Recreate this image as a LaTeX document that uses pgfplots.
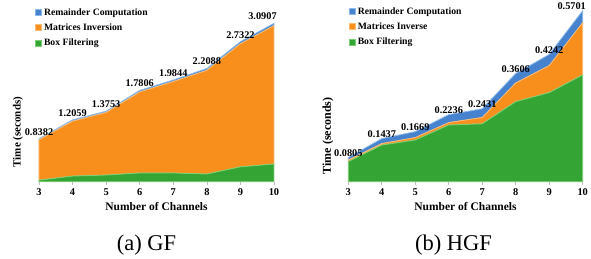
\documentclass[border=0pt]{standalone}
\usepackage{pgfplots}
\pgfplotsset{compat=1.18}
\usepackage{fontspec}
\setmainfont{Liberation Serif}
\definecolor{gfill}{RGB}{52,165,52}
\definecolor{gedge}{RGB}{125,208,115}
\definecolor{ofill}{RGB}{248,142,28}
\definecolor{oedge}{RGB}{252,188,115}
\definecolor{bfill}{RGB}{70,130,205}
\definecolor{bedge}{RGB}{140,185,235}
\definecolor{axgray}{RGB}{190,190,190}
\pgfplotsset{
 mystyle/.style={
  scale only axis, clip=false,
  xmin=3, xmax=10, ymin=0,
  stack plots=y,
  axis x line*=bottom, axis y line*=left,
  y axis line style={draw=none},
  xtick={3,4,5,6,7,8,9,10}, ytick=\empty,
  tick align=outside, major tick length=3pt,
  every tick/.style={axgray, line width=0.6pt},
  x axis line style={axgray, line width=0.8pt},
  /pgf/number format/assume math mode=true,
  xticklabel style={font=\bfseries\fontsize{10.4}{12}\selectfont, inner sep=3.5pt},
  xlabel={Number of Channels},
  xlabel style={font=\bfseries\fontsize{11.5}{13}\selectfont, inner sep=0pt, at={(axis description cs:0.5,0)}, anchor=base, yshift=-28.5pt},
  ylabel={Time (seconds)},
  legend cell align=left,
  reverse legend,
  legend style={draw=none, fill=none, font=\bfseries\fontsize{9.7}{11}\selectfont, anchor=north west, inner sep=0pt, row sep=3pt},
  legend image code/.code={\fill[##1] (0pt,-3pt) rectangle (6pt,3pt);},
  every node near coord/.append style={font=\bfseries\fontsize{10.3}{12}\selectfont, anchor=south, text=black},
 }
}
\begin{document}
\begin{tikzpicture}[x=1pt,y=1pt]
\useasboundingbox (0,0) rectangle (591,258);
% ---------------- (a) GF ----------------
\begin{axis}[mystyle,
  at={(39pt,76.3pt)}, anchor=south west,
  width=235pt, height=164pt, ymax=3.2,
  ylabel style={at={(axis description cs:-0.089,0.303)}, anchor=center, font=\bfseries\fontsize{11}{13}\selectfont},
  legend style={at={(axis description cs:-0.017,1.07)}},
  every node near coord/.append style={inner sep=3pt},
]
\addplot[fill=gfill, draw=gedge, line width=0.8pt] coordinates {
 (3,0.03) (4,0.11) (5,0.13) (6,0.17) (7,0.17) (8,0.15) (9,0.29) (10,0.345)} \closedcycle;
\addlegendentry{Box Filtering}
\addplot[fill=ofill, draw=oedge, line width=0.8pt] coordinates {
 (3,0.7882) (4,1.0709) (5,1.2203) (6,1.5806) (7,1.7844) (8,2.0238) (9,2.4022) (10,2.7007)} \closedcycle;
\addlegendentry{Matrices Inversion}
\addplot[fill=bfill, draw=bedge, line width=0.8pt, nodes near coords, point meta=explicit symbolic] coordinates {
 (3,0.02) [0.8382] (4,0.025) [1.2059] (5,0.025) [1.3753] (6,0.03) [1.7806]
 (7,0.03) [1.9844] (8,0.035) [2.2088] (9,0.04) [2.7322] (10,0.045) [\hspace*{-23pt}3.0907]} \closedcycle;
\addlegendentry{Remainder Computation}
\end{axis}
% ---------------- (b) HGF ----------------
\begin{axis}[mystyle,
  at={(348.3pt,76.3pt)}, anchor=south west,
  width=234.4pt, height=180pt, ymax=0.6,
  ylabel style={at={(axis description cs:-0.087,0.254)}, anchor=center, font=\bfseries\fontsize{12}{14}\selectfont},
  legend style={at={(axis description cs:0.002,0.98)}},
  every node near coord/.append style={inner sep=0.5pt},
]
\addplot[fill=gfill, draw=gedge, line width=0.8pt] coordinates {
 (3,0.067) (4,0.122) (5,0.139) (6,0.189) (7,0.193) (8,0.267) (9,0.297) (10,0.356)} \closedcycle;
\addlegendentry{Box Filtering}
\addplot[fill=ofill, draw=oedge, line width=0.8pt] coordinates {
 (3,0.005) (4,0.005) (5,0.008) (6,0.008) (7,0.021) (8,0.062) (9,0.090) (10,0.174)} \closedcycle;
\addlegendentry{Matrices Inverse}
\addplot[fill=bfill, draw=bedge, line width=0.8pt, nodes near coords, point meta=explicit symbolic] coordinates {
 (3,0.0085) [0.0805] (4,0.0167) [0.1437] (5,0.0199) [0.1669] (6,0.0266) [0.2236]
 (7,0.0291) [0.2431] (8,0.0316) [0.3606] (9,0.0372) [0.4242] (10,0.0401) [\hspace*{-22pt}0.5701]} \closedcycle;
\addlegendentry{Remainder Computation}
\end{axis}
\node[anchor=base, font=\fontsize{22.5}{27}\selectfont, inner sep=0pt] at (146.5,8) {(a) GF};
\node[anchor=base, font=\fontsize{22.5}{27}\selectfont, inner sep=0pt] at (453.5,8) {(b) HGF};
\end{tikzpicture}
\end{document}
